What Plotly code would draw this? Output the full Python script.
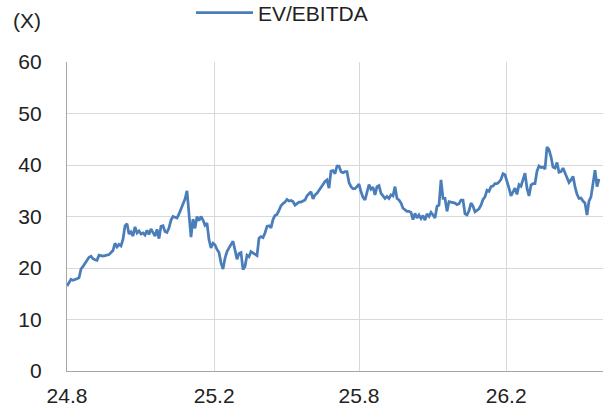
import pandas as pd
import plotly.graph_objects as go

series_name = "EV/EBITDA"
unit_label = "(X)"
start_date = "2024-08-01"
tick_dates = ["2024-08-01", "2025-02-01", "2025-08-01", "2026-02-01"]
tick_labels = ["24.8", "25.2", "25.8", "26.2"]
y_ticks = [0, 10, 20, 30, 40, 50, 60]

ev_ebitda = [
    16.5, 17.1, 17.8, 17.6, 17.7, 17.9, 18.1, 19.8, 20.3, 20.9,
    21.6, 22.1, 22.3, 21.8, 21.6, 21.5, 22.5, 22.4, 22.3, 22.4,
    22.5, 22.6, 23.0, 23.4, 24.8, 24.1, 24.6, 24.3, 25.6, 28.2,
    28.6, 26.6, 27.0, 26.2, 28.0, 26.8, 27.2, 26.6, 26.8, 26.4,
    27.3, 26.5, 27.6, 26.8, 26.2, 27.5, 25.7, 28.1, 28.2, 27.1,
    26.9, 27.8, 29.3, 30.0, 29.9, 29.7, 30.5, 31.6, 32.6, 33.4,
    35.0, 30.0, 26.0, 29.5, 27.7, 30.0, 29.2, 30.0, 29.3, 28.3,
    28.7, 25.5, 23.9, 24.8, 24.5, 23.6, 23.0, 21.0, 19.8, 21.9,
    23.2, 23.9, 24.5, 25.2, 23.5, 21.7, 22.8, 23.0, 19.7, 20.3,
    22.5, 22.2, 23.2, 22.9, 22.6, 22.4, 25.8, 26.1, 25.9, 26.8,
    28.1, 28.2, 27.8, 29.4, 30.2, 30.4, 31.2, 32.1, 32.5, 32.8,
    33.3, 33.0, 33.1, 32.9, 32.2, 32.6, 32.8, 32.8, 33.0, 33.2,
    34.0, 34.5, 34.8, 33.4, 34.2, 34.5, 35.0, 35.6, 36.2, 36.8,
    37.1, 35.5, 38.8, 38.9, 38.3, 39.8, 39.8, 38.7, 38.5, 38.7,
    38.7, 36.6, 35.8, 35.4, 35.4, 35.8, 36.3, 34.8, 33.7, 33.2,
    34.5, 36.2, 35.3, 35.7, 34.2, 35.8, 36.0, 34.5, 34.0, 33.5,
    33.9, 33.5, 34.2, 34.0, 35.8, 33.5, 33.2, 32.6, 31.6, 31.3,
    31.0, 31.0, 30.8, 29.4, 30.6, 29.7, 30.3, 29.6, 30.2, 29.3,
    30.5, 30.0, 30.8, 30.3, 29.7, 32.0, 32.2, 37.1, 33.5, 33.5,
    31.0, 32.9, 32.8, 32.7, 32.6, 32.3, 32.5, 33.2, 33.2, 30.5,
    30.3, 31.1, 32.6, 32.0, 30.9, 31.2, 31.5, 32.2, 33.3, 33.8,
    35.1, 34.9, 35.8, 35.9, 36.4, 36.4, 36.7, 37.2, 38.3, 38.1,
    37.0, 35.5, 34.0, 34.8, 35.5, 34.3, 36.2, 35.9, 37.0, 38.4,
    35.5, 34.0, 36.1, 36.4, 36.4, 38.8, 39.8, 39.5, 39.6, 39.2,
    43.5, 43.0, 41.6, 39.6, 39.4, 40.5, 38.6, 38.7, 39.4, 38.4,
    37.8, 36.6, 37.1, 37.8, 35.8, 34.3, 33.5, 33.6, 33.0, 32.6,
    30.3, 33.0, 33.8, 36.7, 39.0, 35.8, 37.3,
]

dates = pd.date_range(start_date, periods=len(ev_ebitda), freq=pd.Timedelta(hours=60))

fig = go.Figure()
fig.add_trace(go.Scatter(
    x=dates, y=ev_ebitda, mode="lines", name=series_name,
    line=dict(color="#4a7ebb", width=2.75),
))

font_family = "Liberation Sans, Arial, sans-serif"
txt_color = "#222222"
fs = 21
fig.update_layout(
    width=603, height=407, autosize=False,
    margin=dict(l=67, r=0, t=62, b=36),
    paper_bgcolor="white", plot_bgcolor="white",
    font=dict(family=font_family, size=fs, color=txt_color),
    showlegend=True,
    legend=dict(
        orientation="h", xref="container", yref="container",
        x=191 / 603, y=1 - 13 / 407, xanchor="left", yanchor="middle",
        font=dict(size=fs, color=txt_color), bgcolor="rgba(0,0,0,0)",
        itemwidth=57,
    ),
    xaxis=dict(
        type="date", range=["2024-08-01", "2026-06-02"],
        tickvals=tick_dates, ticktext=tick_labels,
        showgrid=True, gridcolor="#d9d9d9", gridwidth=1.3,
        showline=True, linecolor="#a6a6a6", linewidth=1.3,
        ticks="", tickfont=dict(size=fs), automargin=False,
        ticklabelstandoff=6,
    ),
    yaxis=dict(
        range=[0, 60], tickvals=y_ticks,
        showgrid=True, gridcolor="#d9d9d9", gridwidth=1.3,
        showline=True, linecolor="#a6a6a6", linewidth=1.3,
        zeroline=False, ticks="",
        ticklabelstandoff=20, tickfont=dict(size=fs), automargin=False,
    ),
    annotations=[dict(
        text=unit_label, xref="paper", yref="paper",
        x=(27 - 67) / 536, y=(371 - 21) / 309, xanchor="center", yanchor="middle",
        showarrow=False, font=dict(size=fs, color=txt_color),
    )],
)

fig.write_html(
    "out.html",
    config={"responsive": False, "displayModeBar": False},
    post_script="document.body.style.margin='0px';document.body.style.padding='0px';",
)
